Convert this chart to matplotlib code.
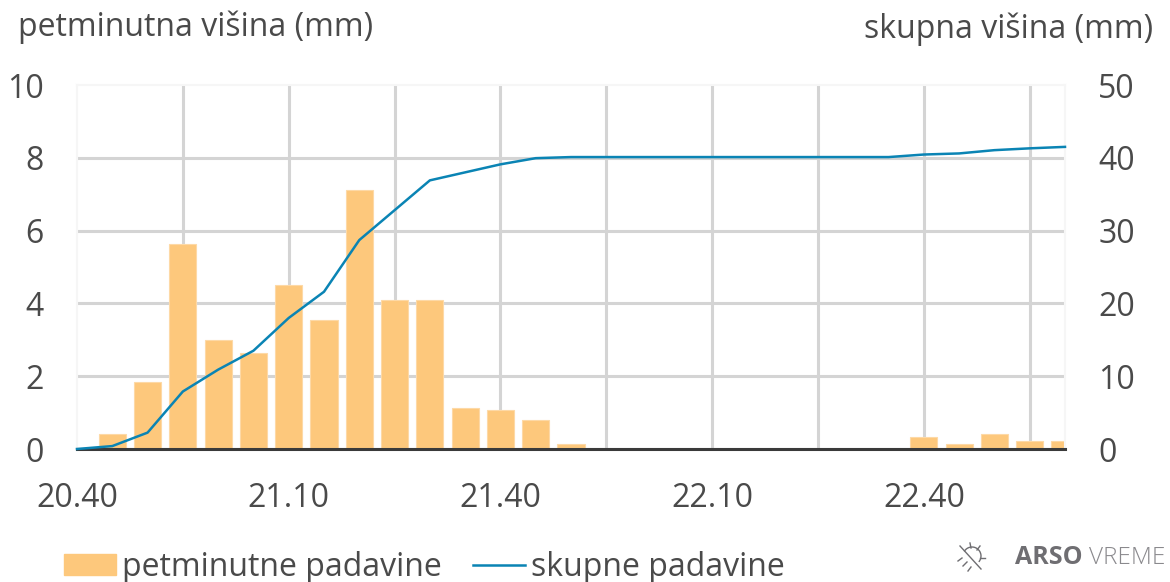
import matplotlib
matplotlib.use("Agg")
import matplotlib.pyplot as plt
from matplotlib.lines import Line2D
from matplotlib.patches import Patch, Arc

times = ["20.40", "20.45", "20.50", "20.55", "21.00", "21.05", "21.10", "21.15", "21.20", "21.25",
         "21.30", "21.35", "21.40", "21.45", "21.50", "21.55", "22.00", "22.05", "22.10", "22.15",
         "22.20", "22.25", "22.30", "22.35", "22.40", "22.45", "22.50", "22.55", "23.00"]
petminutne = [0, 0.4, 1.85, 5.63, 3.0, 2.65, 4.5, 3.55, 7.12, 4.08,
              4.1, 1.13, 1.08, 0.8, 0.13, 0, 0, 0, 0, 0,
              0, 0, 0, 0, 0.33, 0.13, 0.42, 0.23, 0.23]
skupne = [0, 0.4, 2.25, 7.9, 10.9, 13.5, 18.0, 21.6, 28.7, 32.8,
          36.9, 38.0, 39.1, 39.95, 40.1, 40.1, 40.1, 40.1, 40.1, 40.1,
          40.1, 40.1, 40.1, 40.1, 40.45, 40.6, 41.05, 41.3, 41.5]
left_ticks = [0, 2, 4, 6, 8, 10]
right_ticks = [0, 10, 20, 30, 40, 50]

W, H = 1170, 582
text_col = "#4a4a4a"
bar_col = "#fdc87c"
line_col = "#0a84b4"
grid_col = "#d4d4d4"
edge_col = "#f6f6f6"
logo_col = "#6f6e72"

plt.rcParams["font.family"] = ["Open Sans", "DejaVu Sans"]
plt.rcParams["font.size"] = 23

x = list(range(len(times)))

fig = plt.figure(figsize=(W / 100, H / 100), dpi=100)
ax = fig.add_axes([77 / W, 1 - 449 / H, (1065 - 77) / W, (449 - 85) / H])

ax.bar(x, petminutne, width=0.77, color=bar_col, edgecolor="#fdd9a6", linewidth=0.8, zorder=2)
ax.set_xlim(0, 28)
ax.set_ylim(0, 10)
ax.set_yticks(left_ticks)
ax.set_xticks(x[::6])
ax.set_xticklabels(times[::6])
ax.set_xticks(x[3::6], minor=True)
ax.grid(True, which="major", color=grid_col, linewidth=2.2, zorder=0)
ax.grid(True, which="minor", axis="x", color=grid_col, linewidth=2.2, zorder=0)
ax.set_axisbelow(True)
# the border lines at the plot edges are nearly white
ax.get_xgridlines()[0].set_visible(False)
ax.get_ygridlines()[-1].set_visible(False)
ax.tick_params(axis="both", which="both", length=0, labelcolor=text_col)
ax.tick_params(axis="y", pad=24)
ax.tick_params(axis="x", pad=24)
for name, s in ax.spines.items():
    s.set_visible(name != "bottom")
    s.set_color(edge_col)
    s.set_linewidth(1.5)

ax2 = ax.twinx()
ax2.plot(x, skupne, color=line_col, linewidth=1.8, zorder=3, clip_on=False)
ax2.set_ylim(0, 50)
ax2.set_yticks(right_ticks)
ax2.tick_params(axis="y", length=0, pad=24, labelcolor=text_col)
for name, s in ax2.spines.items():
    s.set_visible(name == "bottom")
ax2.spines["bottom"].set_color("#3a3a3a")
ax2.spines["bottom"].set_linewidth(2.2)

fig.text(18 / W, 1 - 27 / H, "petminutna višina (mm)", color=text_col, ha="left", va="center")
fig.text(1153 / W, 1 - 29 / H, "skupna višina (mm)", color=text_col, ha="right", va="center")

handles = [Patch(facecolor=bar_col, edgecolor=bar_col),
           Line2D([0], [0], color=line_col, linewidth=1.8)]
fig.legend(handles, ["petminutne padavine", "skupne padavine"], loc="lower left",
           bbox_to_anchor=(64 / W, -2 / H), borderaxespad=0, borderpad=0, frameon=False,
           ncol=2, handlelength=1.63, handleheight=0.65, handletextpad=0.19,
           columnspacing=0.97, labelcolor=text_col)

# logo, bottom right
fig.text(1015 / W, 1 - 558 / H, "ARSO", color=logo_col, fontsize=18, fontweight="bold",
         ha="left", va="center")
fig.text(1165 / W, 1 - 558 / H, "VREME", color="#8a898d", fontsize=17.5, fontweight="light",
         ha="right", va="center")
logo_segs = [((960, 546), (981, 569)), ((970, 543), (971, 548)), ((980, 546), (977, 550)),
             ((985, 558), (980, 558)), ((958, 561), (962, 558)), ((963, 566), (967, 562)),
             ((968, 571), (971, 567))]
for (x0, y0), (x1, y1) in logo_segs:
    fig.add_artist(Line2D([x0 / W, x1 / W], [1 - y0 / H, 1 - y1 / H], color=logo_col, linewidth=1))
fig.add_artist(Arc((972 / W, 1 - 556 / H), 18 / W, 18 / H, theta1=-60, theta2=130,
                   transform=fig.transFigure, color=logo_col, linewidth=1))

fig.savefig("out.png", dpi=100)
